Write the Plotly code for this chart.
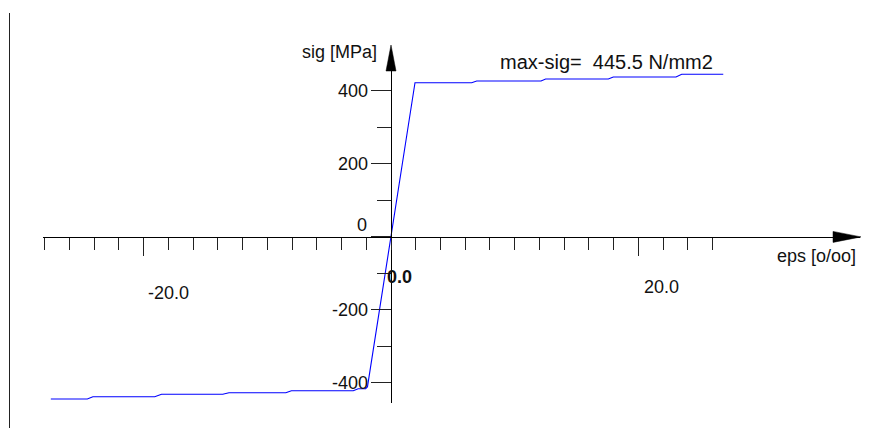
import plotly.graph_objects as go

# ---------------- data ----------------
EPS = [-27.5, -24.55, -24.1, -19.1, -18.55, -13.6, -13.1, -8.5, -8.05, -3.05,
       -2.65, -2.05, -1.9, 0.0, 1.94, 6.52, 6.93, 12.13, 12.5, 17.57, 17.97,
       23.04, 23.5, 26.86]
SIG = [-444.0, -444.0, -437.6, -437.6, -431.0, -431.0, -426.6, -426.6, -421.1,
       -421.1, -415.7, -415.7, -410.2, 0.0, 422.2, 422.2, 427.0, 427.0, 432.4,
       432.4, 438.0, 438.0, 445.5, 445.5]
MAX_SIG = 445.5

X_MAJOR_TICKS = [-20, 20]
X_MINOR_TICKS = [-28, -26, -24, -22, -18, -16, -14, -12, -10, -8, -6, -4, -2, 0,
                 2, 4, 6, 8, 10, 12, 14, 16, 18, 22, 24, 26]
X_LABEL_VALS = [-20, 0, 20]
X_LABELS = ["-20.0", "0.0", "20.0"]

Y_MAJOR_TICKS = [-400, -200, 0, 200, 400]
Y_MINOR_TICKS = [-300, -100, 100, 300]
Y_LABELS = ["-400", "-200", "0", "200", "400"]

X_TITLE = "eps [o/oo]"
Y_TITLE = "sig [MPa]"

# ---------------- geometry (pixels) ----------------
W, H = 885, 428
X0_PX, PX_PER_EPS = 391.0, 12.37
Y0_PX, PX_PER_MPA = 236.9, 0.3652
X_RANGE = [-28.1, (860 - X0_PX) / PX_PER_EPS]
Y_RANGE = [-455, 455]


def xf(px):
    return px / W


def yf(py):
    return 1 - py / H


x_dom = [xf(X0_PX + X_RANGE[0] * PX_PER_EPS), xf(X0_PX + X_RANGE[1] * PX_PER_EPS)]
y_dom = [yf(Y0_PX - Y_RANGE[0] * PX_PER_MPA), yf(Y0_PX - Y_RANGE[1] * PX_PER_MPA)]

FONT = "Liberation Sans, Arial, sans-serif"
TXT = "#111111"
AX = "#000000"
TK = "#222222"

fig = go.Figure()
fig.add_trace(go.Scatter(x=EPS, y=SIG, mode="lines",
                         line=dict(color="#0000ff", width=1.1),
                         hoverinfo="skip"))

fig.update_layout(
    width=W, height=H, autosize=False,
    margin=dict(l=0, r=0, t=0, b=0),
    paper_bgcolor="white", plot_bgcolor="white",
    showlegend=False,
    xaxis=dict(domain=x_dom, range=X_RANGE, anchor="free", position=yf(Y0_PX),
               showline=True, linecolor=AX, linewidth=1, showgrid=False,
               zeroline=False, ticks="outside", tickmode="array",
               tickvals=X_MAJOR_TICKS, ticklen=18, tickcolor=TK, tickwidth=1,
               showticklabels=False, fixedrange=True,
               minor=dict(tickmode="array", tickvals=X_MINOR_TICKS,
                          ticks="outside", ticklen=12, tickcolor=TK,
                          tickwidth=1, showgrid=False)),
    yaxis=dict(domain=y_dom, range=Y_RANGE, anchor="free", position=xf(X0_PX),
               showline=True, linecolor=AX, linewidth=1, showgrid=False,
               zeroline=False, ticks="outside", tickmode="array",
               tickvals=Y_MAJOR_TICKS, ticklen=20, tickcolor=TK, tickwidth=1,
               showticklabels=False, fixedrange=True,
               minor=dict(tickmode="array", tickvals=Y_MINOR_TICKS,
                          ticks="outside", ticklen=14, tickcolor=TK,
                          tickwidth=1, showgrid=False)),
)

ann = []
# y tick labels
for v, t in zip(Y_MAJOR_TICKS, Y_LABELS):
    ann.append(dict(x=0, y=v, xref="x", yref="y", text=t, showarrow=False,
                    xanchor="right", yanchor="middle",
                    xshift=-21 if v != 0 else -22, yshift=0 if v != 0 else 12,
                    font=dict(family=FONT, size=18, color=TXT)))
# x tick labels
x_shifts = {-20: (25, -56), 0: (8, -40), 20: (23, -50)}
for v, t in zip(X_LABEL_VALS, X_LABELS):
    dx, dy = x_shifts[v]
    ann.append(dict(x=v, y=0, xref="x", yref="y", text=(f"<b>{t}</b>" if v == 0 else t),
                    showarrow=False, xanchor="center", yanchor="middle",
                    xshift=dx, yshift=dy,
                    font=dict(family=FONT, size=18, color=TXT)))
# axis titles
ann.append(dict(x=xf(379), y=yf(52), xref="paper", yref="paper", text=Y_TITLE,
                showarrow=False, xanchor="right", yanchor="middle",
                font=dict(family=FONT, size=18, color=TXT)))
ann.append(dict(x=xf(858), y=yf(256), xref="paper", yref="paper", text=X_TITLE,
                showarrow=False, xanchor="right", yanchor="middle",
                font=dict(family=FONT, size=18, color=TXT)))
# max annotation
ann.append(dict(x=xf(498), y=yf(62), xref="paper", yref="paper",
                text=f"max-sig=\u00a0\u00a0{MAX_SIG} N/mm2",
                showarrow=False, xanchor="left", yanchor="middle",
                font=dict(family=FONT, size=20, color=TXT)))
fig.update_layout(annotations=ann)

# decorations: axis arrows and left frame line
def tri(p1, p2, p3):
    return "M {} {} L {} {} L {} {} Z".format(xf(p1[0]), yf(p1[1]), xf(p2[0]), yf(p2[1]),
                                              xf(p3[0]), yf(p3[1]))

shapes = [
    dict(type="path", xref="paper", yref="paper",
         path=tri((X0_PX, 45), (X0_PX - 5, 71), (X0_PX + 5, 71)),
         fillcolor=AX, line=dict(color=AX, width=0.5)),
    dict(type="path", xref="paper", yref="paper",
         path=tri((861, Y0_PX), (833, Y0_PX - 5.5), (833, Y0_PX + 5.5)),
         fillcolor=AX, line=dict(color=AX, width=0.5)),
    dict(type="line", xref="paper", yref="paper", x0=xf(9.5), x1=xf(9.5),
         y0=yf(13), y1=yf(428), line=dict(color=TK, width=1)),
]
fig.update_layout(shapes=shapes)

fig.write_html(
    "out.html",
    config={"displayModeBar": False, "staticPlot": True},
    post_script="document.documentElement.style.margin='0';"
                "document.documentElement.style.padding='0';"
                "document.body.style.margin='0';document.body.style.padding='0';"
                "document.body.style.overflow='hidden';",
)
